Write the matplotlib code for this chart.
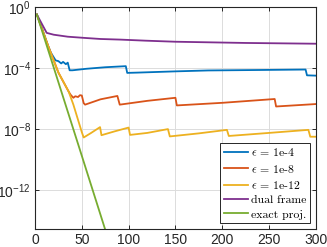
import matplotlib
matplotlib.use("Agg")
import matplotlib.pyplot as plt
import matplotlib.ticker as mticker
import numpy as np

# -------------------------
# Data (log10 of error)
# -------------------------
blue_n = [2, 8, 14, 17, 20, 22, 25, 28, 30, 33, 35, 37, 40, 55, 75, 97, 98.5,
          110, 150, 185, 240, 289, 290.5, 300]
blue_log = [-0.5, -1.5, -2.55, -3.0, -3.3, -3.5, -3.55, -3.7, -3.6, -3.75, -3.65,
            -4.15, -4.15, -4.05, -3.95, -3.88, -4.32, -4.3, -4.22, -4.16, -4.13,
            -4.1, -4.48, -4.5]

orange_n = [2, 14, 25, 36, 38, 41, 43, 46, 48, 50, 52, 53.5, 70, 88, 90.5, 120,
            150, 151.5, 200, 256, 257.5, 300]
orange_log = [-0.5, -2.55, -4.3, -5.55, -5.75, -5.95, -5.85, -5.9, -5.78, -5.8,
              -6.3, -6.4, -6.05, -5.83, -6.4, -6.15, -5.95, -6.45, -6.28, -6.03,
              -6.52, -6.36]

yellow_n = [2, 14, 25, 36, 41, 46, 50, 52, 60, 69.5, 71, 85, 100, 101.5, 120,
            142, 144, 175, 205, 207, 250, 292, 294, 300]
yellow_log = [-0.5, -2.55, -4.3, -5.55, -6.4, -7.4, -8.2, -8.55, -8.25, -7.87,
              -8.4, -8.15, -7.9, -8.38, -8.25, -8.0, -8.48, -8.28, -8.05, -8.45,
              -8.25, -8.05, -8.5, -8.5]

purple_n = [2, 12.5, 20, 35, 53, 70, 91, 118, 150, 225, 300]
purple_log = [-0.5, -1.7, -1.82, -1.95, -2.03, -2.1, -2.14, -2.21, -2.28, -2.36, -2.41]

green_n = [2, 48, 80]
green_log = [-0.5, -9.36, -15.55]

labels = [r"$\epsilon$ = 1e-4", r"$\epsilon$ = 1e-8", r"$\epsilon$ = 1e-12",
          "dual frame", "exact proj."]
colors = ["#0072BD", "#D95319", "#EDB120", "#7E2F8E", "#77AC30"]

# -------------------------
# Plot
# -------------------------
plt.rcParams["mathtext.fontset"] = "cm"
plt.rcParams["font.family"] = "Liberation Sans"

fig = plt.figure(figsize=(3.27, 2.47), dpi=100)
ax = fig.add_axes([0.107, 0.073, 0.859, 0.899])

series = [(blue_n, blue_log), (orange_n, orange_log), (yellow_n, yellow_log),
          (purple_n, purple_log), (green_n, green_log)]
for (n, lg), lab, c in zip(series, labels, colors):
    ax.semilogy(n, 10.0 ** np.array(lg), color=c, lw=1.3, label=lab)

ax.set_xlim(0, 300)
ax.set_ylim(10 ** -14.54, 1)
ax.set_xticks(np.arange(0, 301, 50))
ax.yaxis.set_major_locator(mticker.FixedLocator([1e-12, 1e-8, 1e-4, 1e0]))
ax.yaxis.set_minor_locator(mticker.NullLocator())

ax.grid(True, color="#dcdcdc", lw=0.7)
ax.set_axisbelow(True)
ax.tick_params(direction="in", top=True, right=True, length=3, width=0.7,
               labelsize=10, colors="#262626", pad=3)
for s in ax.spines.values():
    s.set_color("#262626")
    s.set_linewidth(0.8)

leg = ax.legend(loc="lower right", prop={"family": "cmr10", "size": 8.5},
                fancybox=False, framealpha=1, edgecolor="#262626",
                handlelength=2.0, handletextpad=0.3, borderpad=0.3,
                labelspacing=0.35, borderaxespad=0.5)
leg.get_frame().set_linewidth(0.7)

plt.savefig("out.png", dpi=100)
plt.close()
